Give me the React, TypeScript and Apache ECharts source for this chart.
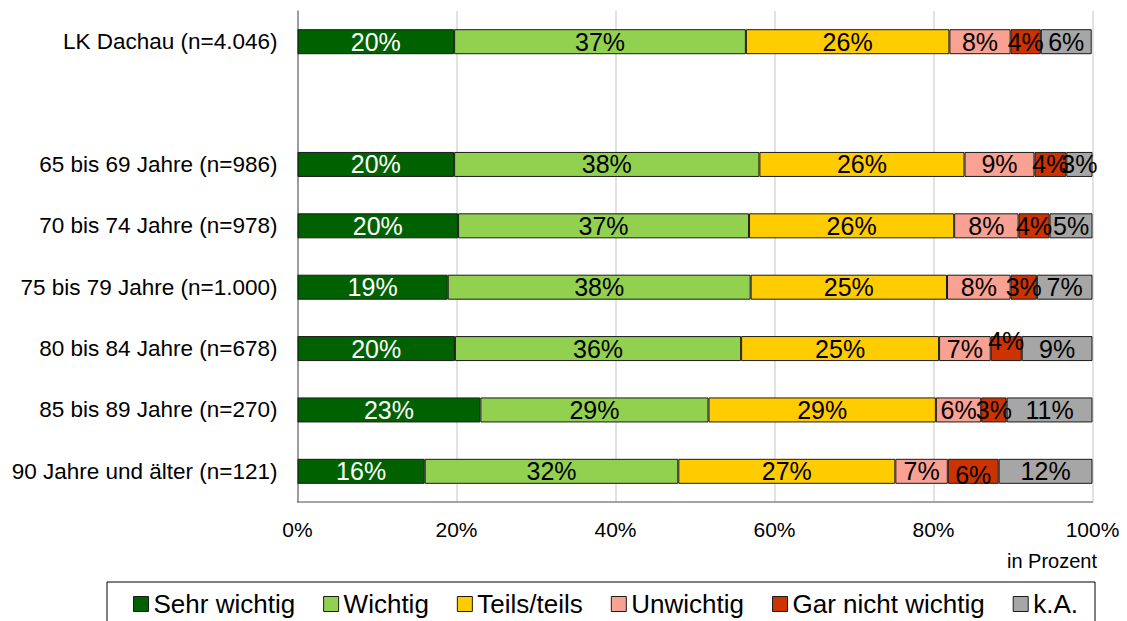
import React, { useEffect, useRef } from 'react';
import * as echarts from 'echarts';

const categories = [
  'LK Dachau (n=4.046)',
  '',
  '65 bis 69 Jahre (n=986)',
  '70 bis 74 Jahre (n=978)',
  '75 bis 79 Jahre (n=1.000)',
  '80 bis 84 Jahre (n=678)',
  '85 bis 89 Jahre (n=270)',
  '90 Jahre und älter (n=121)',
];

const seriesNames = ['Sehr wichtig', 'Wichtig', 'Teils/teils', 'Unwichtig', 'Gar nicht wichtig', 'k.A.'];

const sehrWichtig = [19.7, null, 19.7, 20.2, 18.9, 19.8, 23.0, 16.0];
const wichtig = [36.7, null, 38.4, 36.6, 38.1, 36.0, 28.7, 31.9];
const teilsTeils = [25.6, null, 25.8, 25.8, 24.7, 24.9, 28.6, 27.3];
const unwichtig = [7.7, null, 8.8, 8.1, 8.0, 6.5, 5.7, 6.6];
const garNichtWichtig = [3.8, null, 4.0, 3.9, 3.3, 3.9, 3.2, 6.4];
const keineAngabe = [6.4, null, 3.3, 5.4, 7.0, 8.9, 10.8, 11.8];

const xTicks = [0, 20, 40, 60, 80, 100];

const seriesValues = [sehrWichtig, wichtig, teilsTeils, unwichtig, garNichtWichtig, keineAngabe];
const seriesColors = ['#006100', '#92D050', '#FFCC00', '#F9A193', '#CC3300', '#A6A6A6'];
const labelColors = ['#ffffff', '#000000', '#000000', '#000000', '#000000', '#000000'];
// vertical label nudges (style only), keyed by series index -> category index
const labelNudges: Record<number, Record<number, number>> = { 4: { 5: -8, 7: 4 } };

const FONT = '"Liberation Sans", Arial, Helvetica, sans-serif';

export default function App() {
  const ref = useRef<HTMLDivElement>(null);
  useEffect(() => {
    if (!ref.current) return;
    const chart = echarts.init(ref.current, null, { renderer: 'svg' });
    const series = seriesNames.map((name, si) => ({
      name,
      type: 'bar',
      stack: 'total',
      barWidth: 25,
      itemStyle: { color: seriesColors[si], borderColor: '#1a1a1a', borderWidth: 1 },
      label: {
        show: true,
        position: 'inside',
        color: labelColors[si],
        fontSize: 25,
        fontFamily: FONT,
        formatter: (p: any) => (p.value == null ? '' : Math.round(p.value) + '%'),
      },
      data: seriesValues[si].map((v, ci) => {
        const dy = labelNudges[si] && labelNudges[si][ci];
        return dy ? { value: v, label: { offset: [0, dy] } } : v;
      }),
    }));
    chart.setOption({
      animation: false,
      textStyle: { fontFamily: FONT },
      grid: { left: 297.5, right: 34.5, top: 11, bottom: 119, containLabel: false },
      xAxis: {
        type: 'value',
        min: xTicks[0],
        max: xTicks[xTicks.length - 1],
        interval: xTicks[1] - xTicks[0],
        axisLine: { show: true, lineStyle: { color: '#868686', width: 1.5 } },
        axisTick: { show: false },
        axisLabel: { formatter: '{value}%', color: '#000', fontSize: 21, fontFamily: FONT, margin: 17 },
        splitLine: { show: true, lineStyle: { color: '#d9d9d9', width: 1.5 } },
      },
      yAxis: {
        type: 'category',
        data: categories,
        inverse: true,
        axisLine: { show: true, lineStyle: { color: '#868686', width: 1.5 } },
        axisTick: { show: false },
        axisLabel: { color: '#000', fontSize: 22.5, fontFamily: FONT, margin: 20 },
      },
      legend: {
        data: seriesNames,
        left: 107,
        top: 582,
        orient: 'horizontal',
        selectedMode: false,
        icon: 'rect',
        itemWidth: 15,
        itemHeight: 15,
        itemGap: 28,
        padding: [9, 17, 20, 26],
        borderColor: '#000',
        borderWidth: 1,
        itemStyle: { borderColor: '#1a1a1a', borderWidth: 1 },
        textStyle: { color: '#000', fontSize: 26, fontFamily: FONT, padding: [0, 0, 0, 0] },
      },
      graphic: [
        {
          type: 'text',
          right: 30,
          top: 551,
          style: { text: 'in Prozent', fontSize: 20, fill: '#000', fontFamily: FONT },
        },
      ],
      series,
    });
    return () => chart.dispose();
  }, []);
  return (
    <div
      ref={ref}
      style={{ position: 'fixed', left: 0, top: 0, width: 1127, height: 621, background: '#fff' }}
    />
  );
}
